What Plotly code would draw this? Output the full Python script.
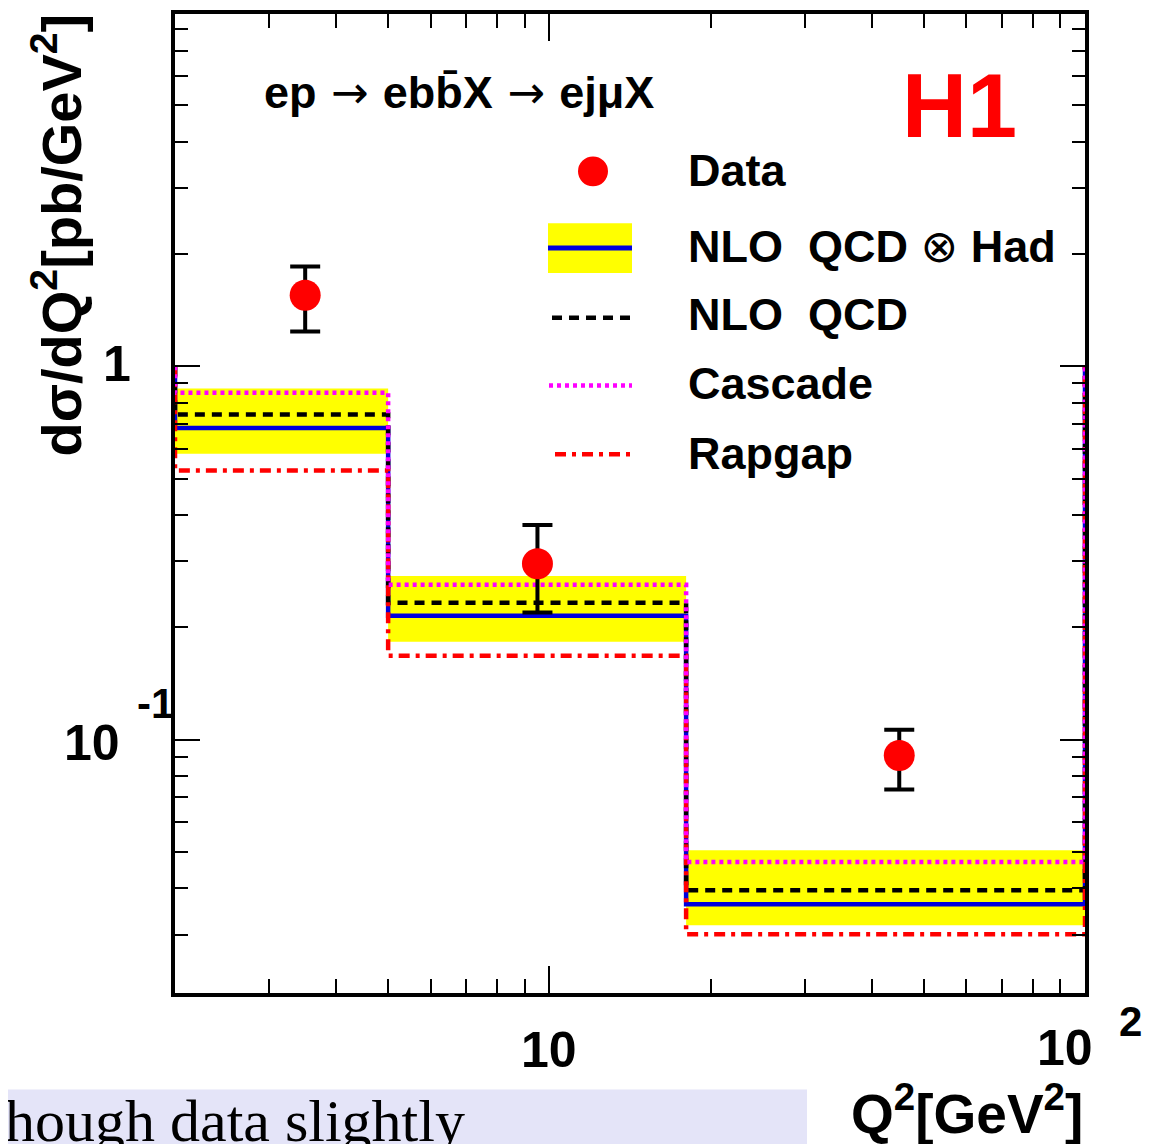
import math
import plotly.graph_objects as go

# ---------------- data ----------------
bin_edges = [2, 5, 18, 100]
data_x = [3.5, 9.5, 45.0]
data_y = [1.55, 0.296, 0.0906]
data_err_up = [0.30, 0.080, 0.0157]
data_err_dn = [0.31, 0.077, 0.0171]

had_central = [0.684, 0.2146, 0.0362]   # NLO QCD x Had (blue)
had_low = [0.583, 0.1828, 0.0318]       # yellow band low
had_high = [0.872, 0.2745, 0.0505]      # yellow band high
nlo_qcd = [0.743, 0.2325, 0.0395]       # black dashed
cascade = [0.849, 0.260, 0.0470]        # magenta dotted
rapgap = [0.526, 0.1678, 0.0301]        # red dash-dot

y_tick_vals = [0.1, 1]
x_tick_vals = [10, 100]
y_minor_vals = [0.03, 0.04, 0.05, 0.06, 0.07, 0.08, 0.09,
                0.2, 0.3, 0.4, 0.5, 0.6, 0.7, 0.8, 0.9,
                2, 3, 4, 5, 6, 7, 8]
x_minor_vals = [3, 4, 5, 6, 7, 8, 9, 20, 30, 40, 50, 60, 70, 80, 90]
legend_labels = ["Data", "NLO  QCD %s Had", "NLO  QCD", "Cascade", "Rapgap"]

# ---------------- geometry helpers (page pixel coordinates) ----------------
PAGE_OFF = 8                      # default body margin of the html page
W, H = 1155 - PAGE_OFF, 1144 - PAGE_OFF
L, R, T, B = 175, 1085, 10, 993   # plot area in page pixels
PW, PH = R - L, B - T


def px(x):
    return (x - L) / PW


def py(y):
    return (B - y) / PH


def steps(vals, base=1.0):
    xs, ys = [bin_edges[0]], [base]
    for i, v in enumerate(vals):
        xs += [bin_edges[i], bin_edges[i + 1]]
        ys += [v, v]
    xs.append(bin_edges[-1])
    ys.append(base)
    return xs, ys


FONT = "Liberation Sans, Arial, Helvetica, sans-serif"
SYM = '<span style="font-family:DejaVu Sans;font-weight:normal">%s</span>'
YELLOW = "#FFFF00"
BLUE = "#0000DD"
MAGENTA = "#FF00FF"
RED = "#FF0000"
DASH_BLACK = "10px,7px"
DASH_DOT = "4px,4px"
DASH_DASHDOT = "11px,6px,4px,6px"


def bfont(size, color="black"):
    return dict(family=FONT, size=size, color=color, weight="bold")


fig = go.Figure()

# yellow uncertainty bands
for i in range(len(had_central)):
    x0, x1 = bin_edges[i], bin_edges[i + 1]
    fig.add_trace(go.Scatter(
        x=[x0, x1, x1, x0, x0],
        y=[had_low[i], had_low[i], had_high[i], had_high[i], had_low[i]],
        mode="lines", fill="toself", fillcolor=YELLOW,
        line=dict(width=0, color=YELLOW), hoverinfo="skip", showlegend=False))

for vals, color, dash in [(had_central, BLUE, "solid"),
                          (nlo_qcd, "black", DASH_BLACK),
                          (rapgap, RED, DASH_DASHDOT),
                          (cascade, MAGENTA, DASH_DOT)]:
    xs, ys = steps(vals)
    fig.add_trace(go.Scatter(x=xs, y=ys, mode="lines",
                             line=dict(color=color, width=4.5, dash=dash),
                             showlegend=False, hoverinfo="skip"))

fig.add_trace(go.Scatter(
    x=data_x, y=data_y, mode="markers",
    marker=dict(color=RED, size=31, symbol="circle"),
    error_y=dict(type="data", array=data_err_up, arrayminus=data_err_dn,
                 color="black", thickness=4, width=15),
    showlegend=False))

axis_common = dict(
    type="log", showgrid=False, zeroline=False,
    showline=True, linewidth=4, linecolor="black", mirror="allticks",
    ticks="inside", tickwidth=2, tickcolor="black", showticklabels=False,
)

fig.update_xaxes(
    **axis_common,
    range=[math.log10(2), 2.0],
    tickmode="array", tickvals=x_tick_vals, ticklen=27,
    minor=dict(tickmode="array", tickvals=x_minor_vals,
               ticks="inside", ticklen=14, tickwidth=2, tickcolor="black"),
)
fig.update_yaxes(
    **axis_common,
    range=[-1.679, 0.944],
    tickmode="array", tickvals=y_tick_vals, ticklen=25,
    minor=dict(tickmode="array", tickvals=y_minor_vals,
               ticks="inside", ticklen=13, tickwidth=2, tickcolor="black"),
)

shapes = []
annotations = []

# ROOT-style tick labels, placed through the axis scales
annotations.append(dict(text="1", xref="paper", yref="y",
                        x=px(133), y=math.log10(y_tick_vals[1]), yshift=2,
                        xanchor="right", yanchor="middle", showarrow=False,
                        font=bfont(50)))
annotations.append(dict(text="10", xref="paper", yref="y",
                        x=px(122), y=math.log10(y_tick_vals[0]), yshift=-3,
                        xanchor="right", yanchor="middle", showarrow=False,
                        font=bfont(50)))
annotations.append(dict(text="-1", xref="paper", yref="y",
                        x=px(135), y=math.log10(y_tick_vals[0]), yshift=36,
                        xanchor="left", yanchor="middle", showarrow=False,
                        font=bfont(42)))
annotations.append(dict(text="10", xref="x", yref="paper",
                        x=math.log10(x_tick_vals[0]), y=py(1050),
                        xanchor="center", yanchor="middle", showarrow=False,
                        font=bfont(50)))
annotations.append(dict(text="10", xref="x", yref="paper",
                        x=math.log10(x_tick_vals[1]), xshift=-20, y=py(1048),
                        xanchor="center", yanchor="middle", showarrow=False,
                        font=bfont(50)))
annotations.append(dict(text="2", xref="x", yref="paper",
                        x=math.log10(x_tick_vals[1]), xshift=32, y=py(1022),
                        xanchor="left", yanchor="middle", showarrow=False,
                        font=bfont(42)))

# legend glyphs
shapes.append(dict(type="circle", xref="paper", yref="paper",
                   x0=px(578), x1=px(608), y0=py(183), y1=py(153),
                   fillcolor=RED, line=dict(width=0)))
shapes.append(dict(type="rect", xref="paper", yref="paper",
                   x0=px(548), x1=px(632), y0=py(270), y1=py(220),
                   fillcolor=YELLOW, line=dict(width=0)))
shapes.append(dict(type="line", xref="paper", yref="paper",
                   x0=px(548), x1=px(632), y0=py(245), y1=py(245),
                   line=dict(color=BLUE, width=5)))
shapes.append(dict(type="line", xref="paper", yref="paper",
                   x0=px(552), x1=px(632), y0=py(315), y1=py(315),
                   line=dict(color="black", width=4.5, dash=DASH_BLACK)))
shapes.append(dict(type="line", xref="paper", yref="paper",
                   x0=px(549), x1=px(632), y0=py(383), y1=py(383),
                   line=dict(color=MAGENTA, width=4.5, dash=DASH_DOT)))
shapes.append(dict(type="line", xref="paper", yref="paper",
                   x0=px(555), x1=px(632), y0=py(452), y1=py(452),
                   line=dict(color=RED, width=4.5, dash=DASH_DASHDOT)))

for label, yc in zip(legend_labels, [167, 243, 312, 381, 451]):
    if "%s" in label:
        label = label % (SYM % "\u2297")
    annotations.append(dict(text=label, xref="paper", yref="paper",
                            x=px(686), y=py(yc), xanchor="left", yanchor="middle",
                            showarrow=False, font=bfont(45)))

# process label
arrow = SYM % " \u2192 "
annotations.append(dict(text="ep" + arrow + "ebb\u0304X" + arrow + "ej\u03bcX",
                        xref="paper", yref="paper",
                        x=px(262), y=py(89), xanchor="left", yanchor="middle",
                        showarrow=False, font=bfont(45)))
# H1 logo
annotations.append(dict(text="H1", xref="paper", yref="paper",
                        x=px(900), y=py(102), xanchor="left", yanchor="middle",
                        showarrow=False, font=bfont(90, RED)))
# axis titles
annotations.append(dict(text="d\u03c3/dQ<sup>2</sup>[pb/GeV<sup>2</sup>]",
                        xref="paper", yref="paper", textangle=-90,
                        x=px(58), y=py(8), xanchor="center", yanchor="top",
                        showarrow=False, font=bfont(56)))
annotations.append(dict(text="Q<sup>2</sup>[GeV<sup>2</sup>]",
                        xref="paper", yref="paper",
                        x=px(1085), y=py(1110), xanchor="right", yanchor="middle",
                        showarrow=False, font=bfont(55)))

# slide caption fragment at the bottom
shapes.append(dict(type="rect", xref="paper", yref="paper",
                   x0=px(-10), x1=px(807), y0=py(1150), y1=py(1090),
                   fillcolor="#E4E4F8", line=dict(width=0), layer="below"))
annotations.append(dict(text="hough data slightly", xref="paper", yref="paper",
                        x=px(3), y=py(1122), xanchor="left", yanchor="middle",
                        showarrow=False,
                        font=dict(family="Liberation Serif, Times New Roman, serif",
                                  size=60, color="black")))

fig.update_layout(
    width=W, height=H,
    margin=dict(l=L - PAGE_OFF, r=W - (R - PAGE_OFF),
                t=T - PAGE_OFF, b=H - (B - PAGE_OFF), pad=0),
    paper_bgcolor="white", plot_bgcolor="white",
    shapes=shapes, annotations=annotations,
    showlegend=False,
)

fig.write_html("out.html")
